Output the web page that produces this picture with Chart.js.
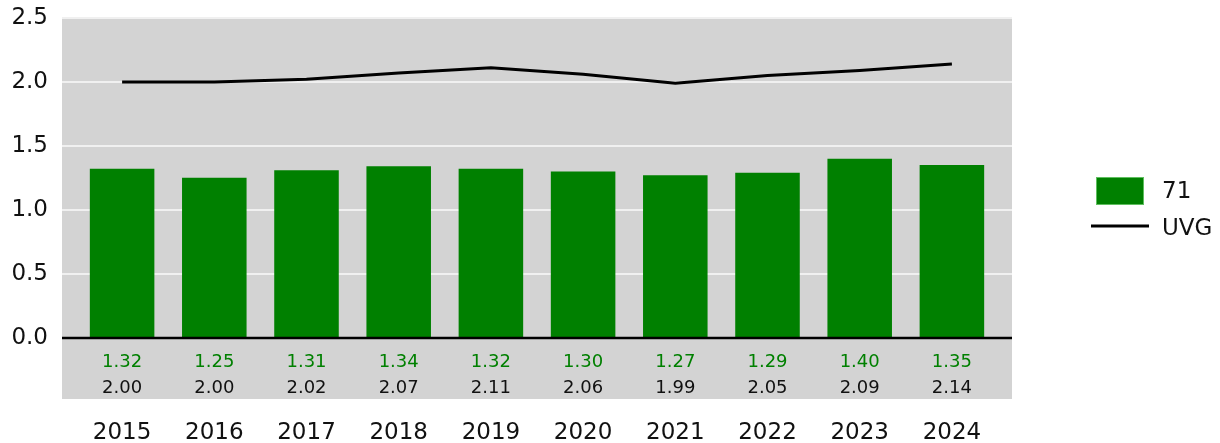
<!DOCTYPE html>
<html>
<head>
<meta charset="utf-8">
<script src="https://cdn.jsdelivr.net/npm/chart.js@4/dist/chart.umd.min.js"></script>
<style>
  html, body { margin: 0; padding: 0; background: #fff; }
  #wrap { width: 1220px; height: 443px; }
</style>
</head>
<body>
<div id="wrap"><canvas id="chart"></canvas></div>
<script>
// data
const years = ['2015', '2016', '2017', '2018', '2019', '2020', '2021', '2022', '2023', '2024'];
const values71 = [1.32, 1.25, 1.31, 1.34, 1.32, 1.30, 1.27, 1.29, 1.40, 1.35];
const valuesUVG = [2.00, 2.00, 2.02, 2.07, 2.11, 2.06, 1.99, 2.05, 2.09, 2.14];
const yTicks = [0, 0.5, 1.0, 1.5, 2.0, 2.5];

const FONT = 'DejaVu Sans, Verdana, sans-serif';
const GREEN = '#008000';

// gray panel, white grid, black zero line, value table and legend
const decor = {
  id: 'decor',
  beforeDatasetsDraw(chart) {
    const { ctx, chartArea: a, scales: { y } } = chart;
    const left = a.left - 14, right = a.right + 14;
    ctx.save();
    ctx.fillStyle = '#d3d3d3';
    ctx.fillRect(left, a.top, right - left, a.bottom - a.top);
    ctx.strokeStyle = '#f0f0f0';
    ctx.lineWidth = 2;
    yTicks.forEach(v => {
      if (v === 0) return;
      const py = Math.round(y.getPixelForValue(v));
      ctx.beginPath();
      ctx.moveTo(left, py);
      ctx.lineTo(right, py);
      ctx.stroke();
    });
    ctx.restore();
  },
  afterDatasetsDraw(chart) {
    const { ctx, chartArea: a, scales: { x, y } } = chart;
    const left = a.left - 14, right = a.right + 14;
    ctx.save();
    const py0 = Math.round(y.getPixelForValue(0));
    ctx.strokeStyle = '#000';
    ctx.lineWidth = 2.5;
    ctx.beginPath();
    ctx.moveTo(left, py0);
    ctx.lineTo(right, py0);
    ctx.stroke();

    ctx.font = '18px ' + FONT;
    ctx.textAlign = 'center';
    ctx.textBaseline = 'middle';
    years.forEach((yr, i) => {
      const px = x.getPixelForValue(i);
      ctx.fillStyle = GREEN;
      ctx.fillText(values71[i].toFixed(2), px, 362);
      ctx.fillStyle = '#111';
      ctx.fillText(valuesUVG[i].toFixed(2), px, 388);
    });

    // legend
    const bars = chart.data.datasets.find(d => d.label === '71');
    const line = chart.data.datasets.find(d => d.label === 'UVG');
    ctx.font = '23px ' + FONT;
    ctx.textAlign = 'left';
    ctx.fillStyle = bars.backgroundColor;
    ctx.fillRect(1096, 177, 48, 28);
    ctx.strokeStyle = '#5fbf5f';
    ctx.lineWidth = 1;
    ctx.strokeRect(1096.5, 177.5, 47, 27);
    ctx.fillStyle = '#111';
    ctx.fillText(bars.label, 1162, 192);
    ctx.strokeStyle = line.borderColor;
    ctx.lineWidth = 3;
    ctx.beginPath();
    ctx.moveTo(1091, 226);
    ctx.lineTo(1149, 226);
    ctx.stroke();
    ctx.fillText(line.label, 1162, 229);
    ctx.restore();
  }
};

new Chart(document.getElementById('chart'), {
  type: 'bar',
  data: {
    labels: years,
    datasets: [
      {
        type: 'line',
        label: 'UVG',
        data: valuesUVG,
        borderColor: '#000',
        borderWidth: 3,
        pointRadius: 0,
        tension: 0,
        order: 0
      },
      {
        label: '71',
        data: values71,
        backgroundColor: GREEN,
        barPercentage: 0.7,
        categoryPercentage: 1.0,
        order: 1
      }
    ]
  },
  options: {
    responsive: true,
    maintainAspectRatio: false,
    animation: false,
    layout: { padding: { top: 18, right: 222, left: 0, bottom: 0 } },
    plugins: {
      legend: { display: false },
      tooltip: { enabled: false }
    },
    scales: {
      x: {
        grid: { display: false, drawTicks: false },
        border: { display: false },
        ticks: { font: { family: FONT, size: 23 }, color: '#111', padding: 20, maxRotation: 0 },
        afterFit(s) { s.height = 44; }
      },
      y: {
        min: -0.48,
        max: 2.5,
        grid: { display: false, drawTicks: false },
        border: { display: false },
        afterBuildTicks(s) { s.ticks = yTicks.map(v => ({ value: v })); },
        ticks: {
          font: { family: FONT, size: 23 },
          color: '#111',
          padding: 28,
          callback: v => Number(v).toFixed(1)
        },
        afterFit(s) { s.width = 76; s.paddingTop = 0; s.paddingBottom = 0; }
      }
    }
  },
  plugins: [decor]
});
</script>
</body>
</html>
